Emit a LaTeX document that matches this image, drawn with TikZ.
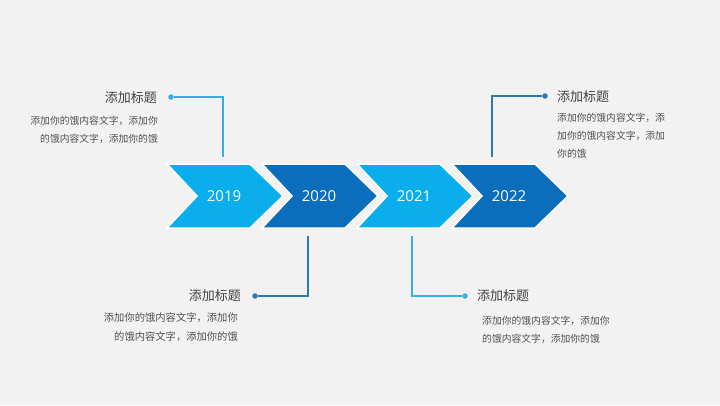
\documentclass[tikz,border=0pt]{standalone}
\usepackage{fontspec}
\setmainfont{Open Sans}
\newfontfamily\cjk{Noto Sans CJK SC}
\definecolor{lb}{HTML}{0AAEEC}
\definecolor{db}{HTML}{0A6EBD}
\definecolor{lline}{HTML}{3AAEE0}
\definecolor{dline}{HTML}{2F78B8}
\definecolor{ttl}{HTML}{404040}
\definecolor{bdy}{HTML}{505050}
\definecolor{bg}{HTML}{F2F2F2}
\tikzset{
  chev/.style={draw=white, line width=1.5pt},
  year/.style={text=white, font=\fontsize{15}{18}\selectfont, inner sep=0pt},
  ttlnode/.style={text=ttl, font=\cjk\fontsize{13}{15}\selectfont, inner sep=0pt},
  bodynode/.style={text=bdy, font=\cjk\fontsize{9.8}{18}\selectfont, inner sep=0pt},
  bigbody/.style={text=bdy, font=\cjk\fontsize{10.3}{19}\selectfont, inner sep=0pt},
  dot/.style={circle, inner sep=0pt, minimum size=5.5pt},
  conn/.style={line width=1.1pt},
}
\begin{document}
\begin{tikzpicture}[x=1pt,y=-1pt]
\fill[bg] (0,0) rectangle (720,405);
\useasboundingbox (0,0) rectangle (720,405);
% chevrons
\foreach \x/\c/\yr/\n in {167/lb/2019/a,262/db/2020/b,357/lb/2021/c,452/db/2022/d}{
  \filldraw[chev, fill=\c] (\x,164) -- ++(83,0) -- ++(33,32) -- ++(-33,32) -- ++(-83,0) -- ++(30,-32) -- cycle;
  \node[year] (y\n) at (\x+57,196) {\yr};
}
% anchor points on chevrons
\coordinate (ca) at (223,157);
\coordinate (cb) at (308,236);
\coordinate (cc) at (412,236);
\coordinate (cd) at (492,157);
% dots
\node[dot, fill=lline] (da) at (171,97) {};
\node[dot, fill=dline] (db) at (255,296) {};
\node[dot, fill=lline] (dc) at (465,296) {};
\node[dot, fill=dline] (dd) at (545,96) {};
% connectors
\draw[conn, lline] (da) -| (ca);
\draw[conn, dline] (db) -| (cb);
\draw[conn, lline] (dc) -| (cc);
\draw[conn, dline] (dd) -| (cd);
% titles
\node[ttlnode, anchor=east] (ta) at (157,98) {添加标题};
\node[ttlnode, anchor=east] (tb) at (241,296) {添加标题};
\node[ttlnode, anchor=west] (tc) at (477,296) {添加标题};
\node[ttlnode, anchor=west] (td) at (557,97) {添加标题};
% bodies
\node[bodynode, anchor=north east, align=right] (ba) at (158,116) {添加你的饿内容文字，添加你\\的饿内容文字，添加你的饿};
\node[bigbody, anchor=north east, align=right] (bb) at (238,313) {添加你的饿内容文字，添加你\\的饿内容文字，添加你的饿};
\node[bodynode, anchor=north west, align=left] (bc) at (482,316) {添加你的饿内容文字，添加你\\的饿内容文字，添加你的饿};
\node[bodynode, anchor=north west, align=left] (bd) at (557,113) {添加你的饿内容文字，添\\加你的饿内容文字，添加\\你的饿};
\end{tikzpicture}
\end{document}
